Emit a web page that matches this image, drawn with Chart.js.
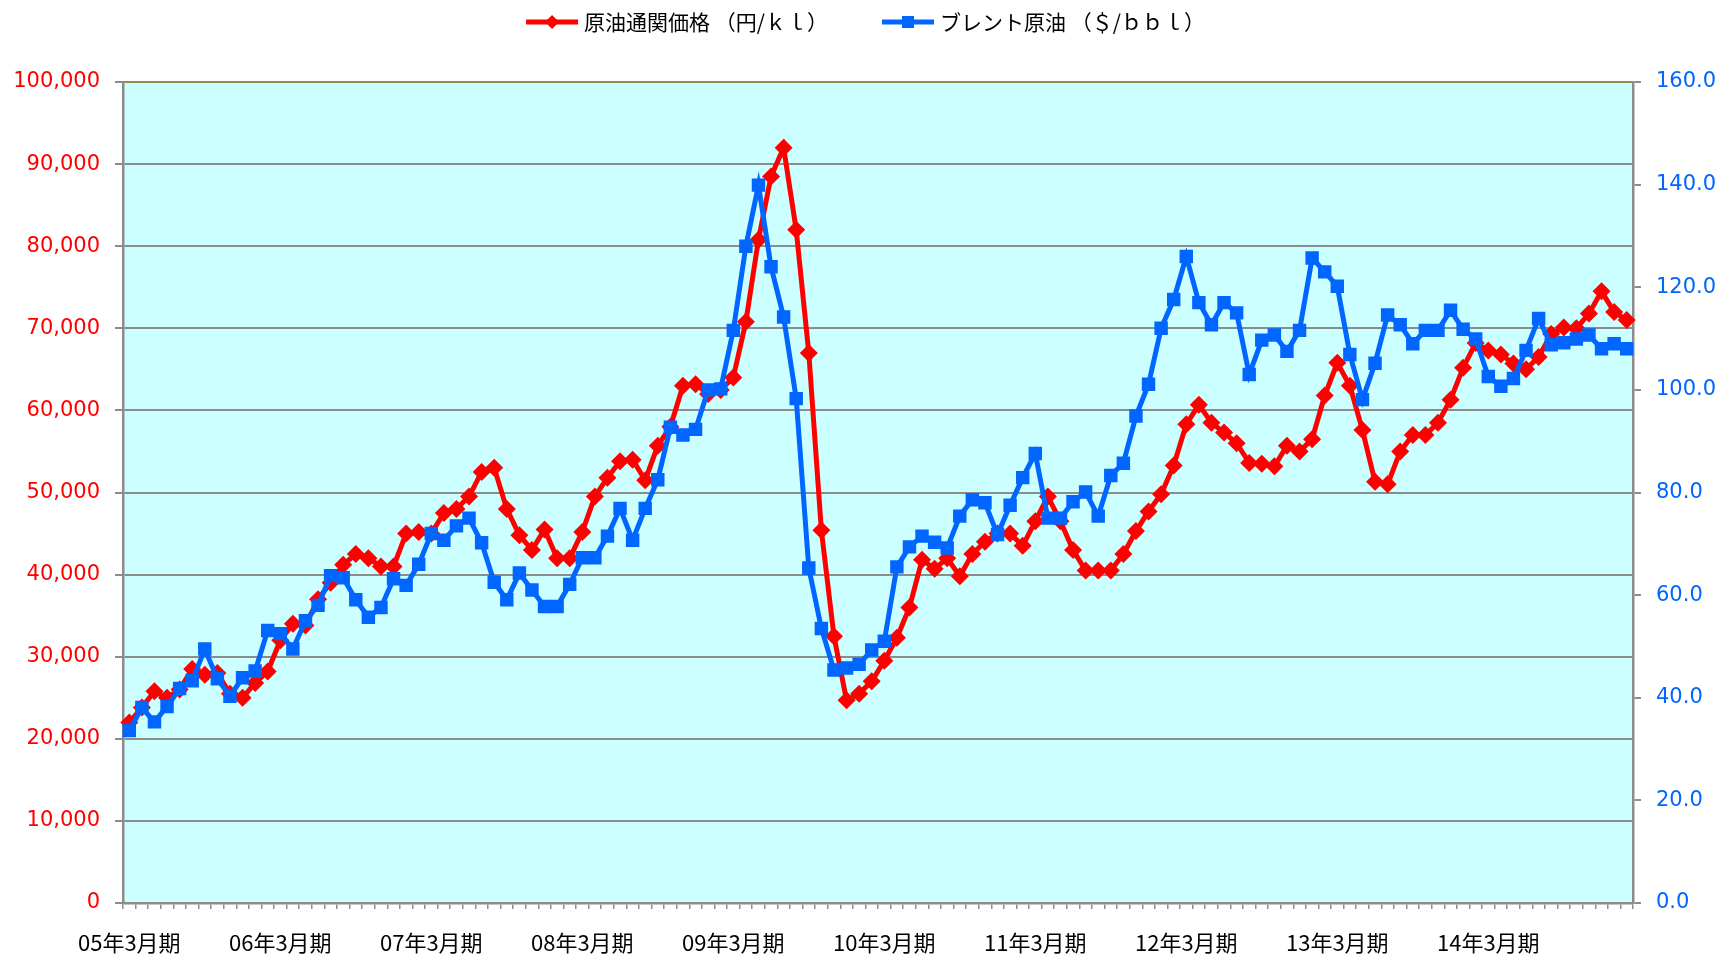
<!DOCTYPE html>
<html>
<head>
<meta charset="utf-8">
<script src="https://cdn.jsdelivr.net/npm/chart.js@4/dist/chart.umd.min.js"></script>
<style>
  html, body { margin: 0; padding: 0; background: #fff; }
  #wrap { width: 1723px; height: 956px; }
</style>
</head>
<body>
<div id="wrap"><canvas id="myChart" width="1723" height="956"></canvas></div>
<script>
// tick labels on the x axis (one per 12 months)
const tickLabels = ["05年3月期", "06年3月期", "07年3月期", "08年3月期", "09年3月期",
  "10年3月期", "11年3月期", "12年3月期", "13年3月期", "14年3月期"];

// 原油通関価格 (円/kl), monthly
const crudeYen = [
  22000, 23800, 25800, 25000, 26000, 28500, 27800, 28000, 25500, 25000, 26800, 28200,
  32000, 34000, 33800, 37000, 39000, 41200, 42500, 42000, 41000, 41000, 45000, 45200,
  45000, 47500, 48000, 49500, 52500, 53000, 48000, 44800, 43000, 45500, 42000, 42000,
  45200, 49500, 51800, 53800, 54000, 51500, 55700, 58000, 63000, 63200, 62000, 62500,
  64000, 70800, 80800, 88500, 92000, 82000, 67000, 45400, 32500, 24700, 25500, 27000,
  29500, 32300, 36000, 41800, 40700, 42000, 39800, 42500, 44000, 45000, 45000, 43500,
  46500, 49500, 46500, 43000, 40500, 40500, 40500, 42500, 45300, 47700, 49800, 53300,
  58300, 60700, 58500, 57300, 56000, 53600, 53500, 53200, 55700, 55000, 56500, 61800,
  65800, 63000, 57600, 51300, 51000, 55000, 57000, 57000, 58500, 61300, 65200, 68200,
  67300, 66800, 65700, 65000, 66500, 69300, 70100, 70000, 71800, 74500, 72000, 71000
];

// ブレント原油 ($/bbl), monthly
const brent = [
  33.6, 38.1, 35.3, 38.3, 41.8, 43.3, 49.5, 43.7, 40.3, 43.9, 45.2, 53.1,
  52.5, 49.5, 55.0, 58.0, 63.8, 63.4, 59.1, 55.7, 57.6, 63.2, 61.9, 66.0,
  72.0, 70.7, 73.5, 75.0, 70.2, 62.5, 59.1, 64.3, 61.0, 57.8, 57.8, 62.1,
  67.3, 67.3, 71.5, 76.9, 70.7, 76.9, 82.5, 92.7, 91.2, 92.3, 100.0, 100.2,
  111.6, 128.0, 139.9, 124.0, 114.2, 98.3, 65.3, 53.5, 45.4, 45.8, 46.5, 49.3,
  51.0, 65.5, 69.4, 71.5, 70.3, 69.2, 75.4, 78.6, 78.0, 71.8, 77.5, 82.9,
  87.6, 75.0, 75.0, 78.2, 80.1, 75.4, 83.3, 85.7, 94.9, 101.1, 112.0, 117.6,
  126.0, 117.0, 112.7, 117.0, 115.0, 103.0, 109.7, 110.7, 107.5, 111.6, 125.7, 123.0,
  120.2, 106.9, 98.1, 105.2, 114.6, 112.7, 109.0, 111.6, 111.6, 115.5, 111.8, 109.9,
  102.6, 100.7, 102.2, 107.7, 113.9, 108.8, 109.2, 109.9, 110.7, 108.0, 109.0, 108.0
];

// categories: one per month, the period label on each 12th month
const categories = crudeYen.map((v, i) => (i % 12 === 0 ? tickLabels[i / 12] : ""));

const RED = "#ff0000";
const BLUE = "#0066ff";
const GRID = "#8c8c8c";

// plot background + olive top border
const plotBg = {
  id: "plotBg",
  beforeDraw(chart) {
    const a = chart.chartArea, ctx = chart.ctx;
    ctx.save();
    ctx.fillStyle = "#ccffff";
    ctx.fillRect(a.left, a.top, a.right - a.left, a.bottom - a.top);
    ctx.restore();
  },
  afterDatasetsDraw(chart) {
    const a = chart.chartArea, ctx = chart.ctx;
    ctx.save();
    ctx.strokeStyle = "#9a8a55";
    ctx.lineWidth = 2;
    ctx.beginPath(); ctx.moveTo(a.left, a.top); ctx.lineTo(a.right, a.top); ctx.stroke();
    ctx.restore();
  }
};

// legend: line with marker, then the text, centered at the top
const lineLegend = {
  id: "lineLegend",
  afterDraw(chart) {
    const ctx = chart.ctx;
    const font = "21px 'Noto Sans CJK JP'";
    const iconW = 52, textGap = 6, itemGap = 54, cy = 22;
    ctx.save();
    ctx.font = font;
    const items = chart.data.datasets.map(ds => ({ ds, w: iconW + textGap + ctx.measureText(ds.label).width }));
    const total = items.reduce((s, it) => s + it.w, 0) + itemGap * (items.length - 1);
    let x = (chart.width - total) / 2 + 4;
    items.forEach(it => {
      const c = it.ds.borderColor;
      ctx.strokeStyle = c; ctx.fillStyle = c; ctx.lineWidth = 5;
      ctx.beginPath(); ctx.moveTo(x, cy); ctx.lineTo(x + iconW, cy); ctx.stroke();
      const mx = x + iconW / 2;
      ctx.beginPath();
      if (it.ds.pointStyle === "rectRot") {
        ctx.moveTo(mx, cy - 7); ctx.lineTo(mx + 7, cy); ctx.lineTo(mx, cy + 7); ctx.lineTo(mx - 7, cy);
      } else {
        ctx.rect(mx - 6, cy - 6, 12, 12);
      }
      ctx.fill();
      ctx.fillStyle = "#000";
      ctx.textBaseline = "middle";
      ctx.textAlign = "left";
      ctx.fillText(it.ds.label, x + iconW + textGap, cy);
      x += it.w + itemGap;
    });
    ctx.restore();
  }
};

const ctx = document.getElementById("myChart").getContext("2d");
const myChart = new Chart(ctx, {
  type: "line",
  data: {
    labels: categories,
    datasets: [
      {
        label: "原油通関価格 （円/ｋｌ）",
        data: crudeYen,
        yAxisID: "y",
        borderColor: RED,
        backgroundColor: RED,
        borderWidth: 5,
        pointStyle: "rectRot",
        pointRadius: 9,
        pointBorderWidth: 0,
        tension: 0,
        order: 2
      },
      {
        label: "ブレント原油 （＄/ｂｂｌ）",
        data: brent,
        yAxisID: "y1",
        borderColor: BLUE,
        backgroundColor: BLUE,
        borderWidth: 5,
        pointStyle: "rect",
        pointRadius: 9.5,
        pointBorderWidth: 0,
        tension: 0,
        order: 1
      }
    ]
  },
  options: {
    responsive: false,
    animation: false,
    layout: { padding: { top: 82, left: 0, right: 0, bottom: 0 } },
    plugins: {
      tooltip: { enabled: false },
      legend: { display: false }
    },
    scales: {
      x: {
        offset: true,
        grid: { offset: true, drawOnChartArea: false, tickLength: 6, color: GRID, lineWidth: 1.5 },
        border: { color: GRID, width: 2.5 },
        ticks: {
          autoSkip: false, maxRotation: 0, minRotation: 0, padding: 20,
          color: "#000",
          font: { family: "'Noto Sans CJK JP'", size: 22 }
        },
        afterFit(scale) { scale.height = 53; }
      },
      y: {
        position: "left",
        min: 0, max: 100000,
        ticks: {
          stepSize: 10000, color: RED, padding: 15,
          font: { family: "'DejaVu Sans'", size: 21 },
          callback: v => v.toLocaleString("en-US")
        },
        grid: { color: GRID, lineWidth: 2, tickLength: 8 },
        border: { color: GRID, width: 2.5 },
        afterFit(scale) { scale.width = 123; }
      },
      y1: {
        position: "right",
        min: 0, max: 160,
        ticks: {
          stepSize: 20, color: BLUE, padding: 15,
          font: { family: "'DejaVu Sans'", size: 21 },
          callback: v => v.toFixed(1)
        },
        grid: { drawOnChartArea: false, color: GRID, lineWidth: 2, tickLength: 8 },
        border: { color: GRID, width: 2.5 },
        afterFit(scale) { scale.width = 90; }
      }
    }
  },
  plugins: [plotBg, lineLegend]
});
</script>
</body>
</html>
